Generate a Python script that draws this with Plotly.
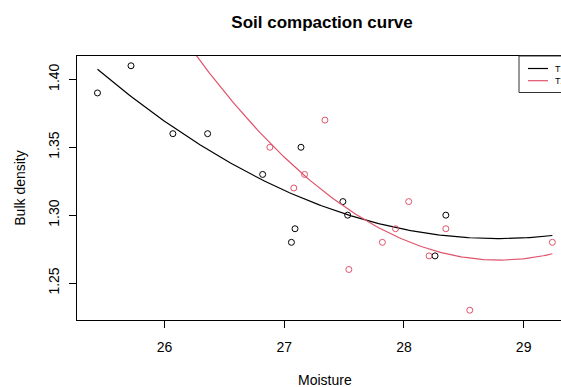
import numpy as np
import plotly.graph_objects as go

# ---- data ----
moisture_t1 = [25.44, 25.72, 26.07, 26.36, 26.82, 27.06, 27.09, 27.14, 27.49, 27.53, 28.26, 28.35]
density_t1 = [1.39, 1.41, 1.36, 1.36, 1.33, 1.28, 1.29, 1.35, 1.31, 1.30, 1.27, 1.30]
moisture_t2 = [26.88, 27.08, 27.17, 27.34, 27.54, 27.82, 27.93, 28.04, 28.21, 28.35, 28.55, 29.24]
density_t2 = [1.35, 1.32, 1.33, 1.37, 1.26, 1.28, 1.29, 1.31, 1.27, 1.29, 1.23, 1.28]
group_names = ["T1", "T2"]
x_ticks = [26, 27, 28, 29]
y_ticks = [1.25, 1.30, 1.35, 1.40]

BLACK = "#000000"
RED = "#DF536B"
FONT = "Liberation Sans, Arial, sans-serif"

all_x = moisture_t1 + moisture_t2
grid = np.linspace(min(all_x), max(all_x), 200)

fig = go.Figure()
for xs, ys, col, name in [(moisture_t1, density_t1, BLACK, group_names[0]),
                          (moisture_t2, density_t2, RED, group_names[1])]:
    fig.add_trace(go.Scatter(x=xs, y=ys, mode="markers", name=name, showlegend=False,
                             marker=dict(symbol="circle-open", size=6, color=col,
                                         line=dict(width=1, color=col))))
    coef = np.polyfit(xs, ys, 2)
    fig.add_trace(go.Scatter(x=grid, y=np.polyval(coef, grid), mode="lines", name=name + " fit",
                             showlegend=False, line=dict(color=col, width=1.2)))

# plot area geometry (px)
L, T, B = 77, 56, 320
W, H = 561, 387
pw, ph = W - L, B - T

def px(xp):
    return (xp - L) / pw

def py(yp):
    return (B - yp) / ph

shapes = [
    dict(type="rect", xref="paper", yref="paper", x0=px(519), x1=px(571), y0=py(92.5), y1=py(T),
         line=dict(color="#333333", width=1), fillcolor="rgba(0,0,0,0)", layer="above"),
    dict(type="line", xref="paper", yref="paper", x0=px(528), x1=px(548), y0=py(68.5), y1=py(68.5),
         line=dict(color=BLACK, width=1.2)),
    dict(type="line", xref="paper", yref="paper", x0=px(528), x1=px(548), y0=py(80.7), y1=py(80.7),
         line=dict(color=RED, width=1.2)),
]
annotations = [
    dict(text=group_names[0], xref="paper", yref="paper", x=px(555), y=py(68.5), xanchor="left",
         yanchor="middle", showarrow=False, borderpad=0, borderwidth=0,
         font=dict(size=9, color="black", family=FONT)),
    dict(text=group_names[1], xref="paper", yref="paper", x=px(555), y=py(80.7), xanchor="left",
         yanchor="middle", showarrow=False, borderpad=0, borderwidth=0,
         font=dict(size=9, color="black", family=FONT)),
    dict(text="Moisture", xref="paper", yref="paper", x=px(324.5), y=py(380), xanchor="center",
         yanchor="middle", showarrow=False, borderpad=0, borderwidth=0,
         font=dict(size=14, color="black", family=FONT)),
]

fig.update_layout(
    width=W, height=H,
    margin=dict(l=L, r=0, t=T, b=H - B, pad=0),
    paper_bgcolor="white", plot_bgcolor="white",
    font=dict(family=FONT, size=14, color="black"),
    title=dict(text="<b>Soil compaction curve</b>", x=px(322), xref="paper", xanchor="center",
               y=1 - 22 / H, yref="container", yanchor="middle", font=dict(size=17)),
    xaxis=dict(range=[25.269, 29.312], tickvals=x_ticks, ticktext=[str(v) for v in x_ticks],
               ticklabelstandoff=7,
               showline=True, linecolor="black", linewidth=1, mirror=True, ticks="outside",
               ticklen=7, tickcolor="black", showgrid=False, zeroline=False),
    yaxis=dict(range=[1.2228, 1.4172], tickvals=y_ticks, ticktext=["%.2f" % v for v in y_ticks],
               tickangle=-90, ticklabelstandoff=4, showline=True, linecolor="black", linewidth=1,
               mirror=False, ticks="outside", ticklen=7, tickcolor="black", showgrid=False,
               zeroline=False,
               title=dict(text="Bulk density", standoff=17, font=dict(size=14))),
    shapes=shapes, annotations=annotations,
)

fig.write_html("out.html", config={"displayModeBar": False},
               post_script="document.body.style.margin='0px';document.body.style.overflow='hidden';")
